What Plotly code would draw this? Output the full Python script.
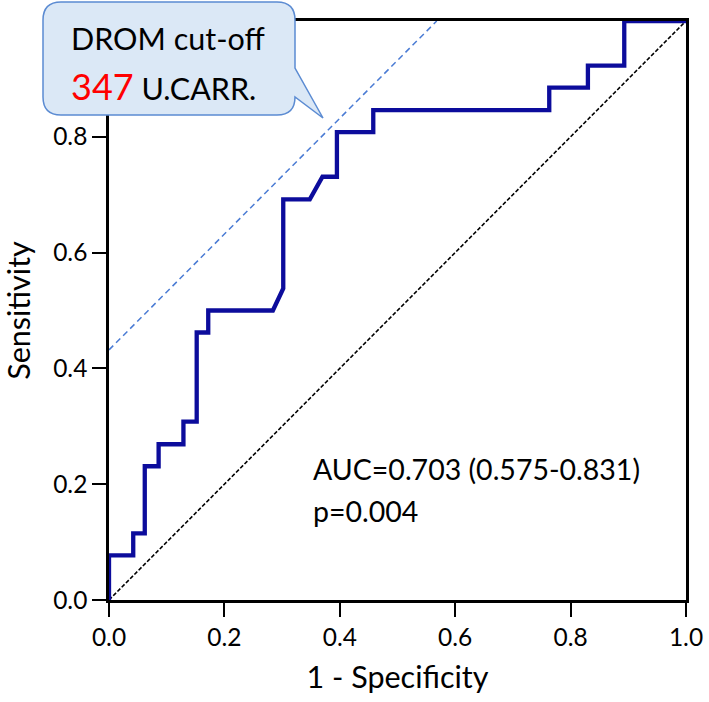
import plotly.graph_objects as go

# ---------------- data ----------------
fpr = [0.0, 0.0, 0.042, 0.042, 0.062, 0.062, 0.086, 0.086, 0.129, 0.129,
       0.152, 0.152, 0.172, 0.172, 0.284, 0.302, 0.302, 0.348, 0.370, 0.395,
       0.395, 0.458, 0.458, 0.763, 0.763, 0.830, 0.830, 0.893, 0.893, 1.0]
tpr = [0.0, 0.077, 0.077, 0.115, 0.115, 0.231, 0.231, 0.269, 0.269, 0.308,
       0.308, 0.462, 0.462, 0.500, 0.500, 0.538, 0.692, 0.692, 0.731, 0.731,
       0.808, 0.808, 0.846, 0.846, 0.885, 0.885, 0.923, 0.923, 1.0, 1.0]
chance_x = [0.0, 1.0]
chance_y = [0.0, 1.0]
tangent_intercept = 0.432          # dashed cut-off line: y = x + b
x_tick_vals = [0.0, 0.2, 0.4, 0.6, 0.8, 1.0]
x_tick_text = ["0.0", "0.2", "0.4", "0.6", "0.8", "1.0"]
y_tick_vals = [0.0, 0.2, 0.4, 0.6, 0.8]          # 1.0 is hidden by the callout
y_tick_text = ["0.0", "0.2", "0.4", "0.6", "0.8"]
cutoff_label = "DROM cut-off"
cutoff_value = "347"
cutoff_unit = "U.CARR."
auc_text = "AUC=0.703 (0.575-0.831)"
p_text = "p=0.004"

tan_x = [0.0, 1.0 - tangent_intercept]
tan_y = [tangent_intercept, 1.0]

# ---------------- layout geometry ----------------
W, H = 709, 702
L, R, T, B = 109, 686, 21, 600   # plot area in px


def px(x):
    return (x - L) / (R - L)


def py(y):
    return (B - y) / (B - T)


FONT = "Lato"

fig = go.Figure()
fig.add_trace(go.Scatter(x=chance_x, y=chance_y, mode="lines",
                         line=dict(color="black", width=1.6, dash="4px,2px"),
                         hoverinfo="skip", showlegend=False))
fig.add_trace(go.Scatter(x=tan_x, y=tan_y, mode="lines",
                         line=dict(color="#4a7bd4", width=1.5, dash="6px,4px"),
                         hoverinfo="skip", showlegend=False))
fig.add_trace(go.Scatter(x=fpr, y=tpr, mode="lines",
                         line=dict(color="#0c0c9c", width=4.3),
                         showlegend=False))

# callout bubble
r = 18
bx0, bx1, by0, by1 = 43, 295, 2, 115
pts = [
    ("M", [(bx0 + r, by0)]),
    ("L", [(bx1 - r, by0)]),
    ("Q", [(bx1, by0), (bx1, by0 + r)]),
    ("L", [(bx1, 68)]),
    ("L", [(323, 118)]),
    ("L", [(bx1, by1 - r)]),
    ("Q", [(bx1, by1), (bx1 - r, by1)]),
    ("L", [(bx0 + r, by1)]),
    ("Q", [(bx0, by1), (bx0, by1 - r)]),
    ("L", [(bx0, by0 + r)]),
    ("Q", [(bx0, by0), (bx0 + r, by0)]),
]
path = ""
for cmd, cs in pts:
    path += cmd + " " + " ".join(f"{px(a):.5f},{py(b):.5f}" for a, b in cs) + " "
path += "Z"
fig.add_shape(type="path", path=path, xref="paper", yref="paper",
              fillcolor="#dbe8f6", line=dict(color="#5b8bd2", width=1.5),
              layer="above")

fig.add_annotation(x=px(69), y=py(38), xref="paper", yref="paper",
                   text=cutoff_label, showarrow=False, xanchor="left",
                   yanchor="middle", font=dict(family=FONT, size=30.5, color="black"))
fig.add_annotation(x=px(69), y=py(86), xref="paper", yref="paper",
                   text=f"<span style='color:#ff0000;font-size:36px'>{cutoff_value}</span> {cutoff_unit}",
                   showarrow=False, xanchor="left", yanchor="middle",
                   font=dict(family=FONT, size=30.5, color="black"))
fig.add_annotation(x=px(311), y=py(469), xref="paper", yref="paper",
                   text=auc_text, showarrow=False, xanchor="left", yanchor="middle",
                   font=dict(family=FONT, size=28.5, color="black"))
fig.add_annotation(x=px(311), y=py(511), xref="paper", yref="paper",
                   text=p_text, showarrow=False, xanchor="left", yanchor="middle",
                   font=dict(family=FONT, size=28.5, color="black"))

axis_common = dict(range=[0, 1], showline=True, linecolor="black", linewidth=2.5,
                   mirror=True, ticks="outside", ticklen=14, tickwidth=2,
                   tickcolor="black", showgrid=False, zeroline=False,
                   automargin=False,
                   tickfont=dict(family=FONT, size=24.5, color="black"))

fig.update_layout(
    template="none",
    width=W, height=H,
    margin=dict(l=L, r=W - R, t=T, b=H - B, pad=0, autoexpand=False),
    paper_bgcolor="white", plot_bgcolor="white",
    showlegend=False,
    xaxis=dict(**axis_common, tickvals=x_tick_vals, ticktext=x_tick_text,
               title=dict(text="1 - Specificity", standoff=17,
                          font=dict(family=FONT, size=30.5, color="black"))),
    yaxis=dict(**axis_common, tickvals=y_tick_vals, ticktext=y_tick_text,
               title=dict(text="Sensitivity", standoff=26,
                          font=dict(family=FONT, size=30.5, color="black"))),
)

fig.write_html("out.html",
               config={"displayModeBar": False},
               post_script="document.body.style.margin='0px';")
